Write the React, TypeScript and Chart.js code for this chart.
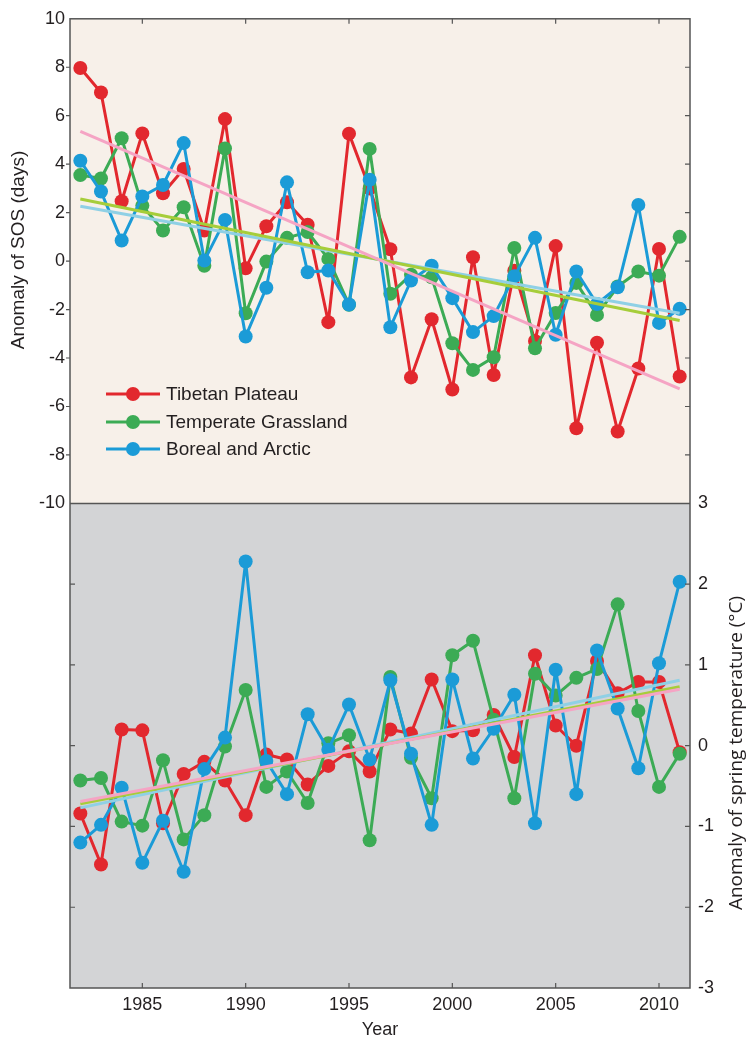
import React, { useEffect, useRef } from "react";
import { Chart, registerables } from "chart.js";

Chart.register(...registerables);

const years = [1982, 1983, 1984, 1985, 1986, 1987, 1988, 1989, 1990, 1991, 1992, 1993, 1994, 1995, 1996, 1997, 1998, 1999, 2000, 2001, 2002, 2003, 2004, 2005, 2006, 2007, 2008, 2009, 2010, 2011];

// Anomaly of SOS (days)
const tibetanSOS = [7.97, 6.96, 2.47, 5.27, 2.8, 3.8, 1.26, 5.86, -0.3, 1.44, 2.43, 1.5, -2.52, 5.26, 3.0, 0.49, -4.8, -2.4, -5.3, 0.16, -4.7, -0.4, -3.3, 0.62, -6.9, -3.37, -7.03, -4.43, 0.5, -4.76];
const grassSOS = [3.55, 3.41, 5.07, 2.29, 1.26, 2.22, -0.19, 4.65, -2.15, -0.02, 0.96, 1.2, 0.09, -1.8, 4.63, -1.35, -0.56, -0.67, -3.39, -4.49, -3.97, 0.54, -3.6, -2.14, -0.9, -2.22, -1.05, -0.43, -0.6, 1.0];
const borealSOS = [4.14, 2.87, 0.85, 2.67, 3.14, 4.87, 0.02, 1.7, -3.11, -1.1, 3.25, -0.46, -0.39, -1.79, 3.36, -2.73, -0.8, -0.19, -1.53, -2.93, -2.27, -0.63, 0.96, -3.04, -0.43, -1.77, -1.08, 2.32, -2.55, -1.97];

// Anomaly of spring temperature (°C)
const tibetanTemp = [-0.84, -1.47, 0.2, 0.19, -0.96, -0.35, -0.2, -0.43, -0.86, -0.11, -0.17, -0.48, -0.25, -0.07, -0.32, 0.2, 0.15, 0.82, 0.18, 0.19, 0.38, -0.14, 1.12, 0.25, 0.0, 1.05, 0.65, 0.79, 0.79, -0.08];
const grassTemp = [-0.43, -0.4, -0.94, -0.99, -0.18, -1.16, -0.86, -0.01, 0.69, -0.51, -0.32, -0.71, 0.03, 0.13, -1.17, 0.85, -0.15, -0.65, 1.12, 1.3, 0.32, -0.65, 0.89, 0.62, 0.84, 0.95, 1.75, 0.43, -0.51, -0.1];
const borealTemp = [-1.2, -0.98, -0.52, -1.45, -0.93, -1.56, -0.29, 0.1, 2.28, -0.19, -0.6, 0.39, -0.05, 0.51, -0.17, 0.81, -0.1, -0.98, 0.82, -0.16, 0.21, 0.63, -0.96, 0.94, -0.6, 1.18, 0.46, -0.28, 1.02, 2.03];

// Linear trend lines (end points)
const trendYears = [1982, 2011];
const tibetanSOSTrend = [5.35, -5.27];
const grassSOSTrend = [2.56, -2.45];
const borealSOSTrend = [2.26, -2.15];
const tibetanTempTrend = [-0.69, 0.7];
const grassTempTrend = [-0.72, 0.73];
const borealTempTrend = [-0.77, 0.81];

const xTicks = [1985, 1990, 1995, 2000, 2005, 2010];
const sosTicks = [-10, -8, -6, -4, -2, 0, 2, 4, 6, 8, 10];
const tempTicks = [-3, -2, -1, 0, 1, 2, 3];

const seriesNames = ["Tibetan Plateau", "Temperate Grassland", "Boreal and Arctic"];

const RED = "#e2282e";
const GREEN = "#3cab55";
const BLUE = "#1b9bd7";
const PINK = "#f5a4c4";
const YGREEN = "#a6cd3a";
const LBLUE = "#8fd0e5";
const TOP_BG = "#f7f0e9";
const BOT_BG = "#d3d4d6";
const AXIS = "#555555";
const TEXT = "#231f20";
const FONT = "'Liberation Sans', Arial, sans-serif";
const FONT2 = "'Open Sans', 'Liberation Sans', sans-serif";

function pts(xs: number[], ys: number[]) {
  return xs.map((x, i) => ({ x, y: ys[i] }));
}

export default function App() {
  const ref = useRef<HTMLCanvasElement | null>(null);

  useEffect(() => {
    document.body.style.margin = "0";
    const canvas = ref.current;
    if (!canvas) return;

    const series = (label: string, data: number[], color: string, axis: string, order: number) => ({
      label,
      data: pts(years, data),
      yAxisID: axis,
      borderColor: color,
      backgroundColor: color,
      borderWidth: 3,
      borderJoinStyle: "round",
      pointRadius: 7,
      pointBorderWidth: 0,
      pointBackgroundColor: color,
      tension: 0,
      order,
    });
    const trend = (label: string, data: number[], color: string, axis: string, order: number) => ({
      label,
      data: pts(trendYears, data),
      yAxisID: axis,
      borderColor: color,
      backgroundColor: color,
      borderWidth: 3,
      pointRadius: 0,
      tension: 0,
      order,
    });

    const panelPlugin = {
      id: "panels",
      beforeDatasetsDraw(chart: any) {
        const { ctx, chartArea } = chart;
        const mid = chart.scales.ySOS.getPixelForValue(-10);
        ctx.save();
        ctx.fillStyle = TOP_BG;
        ctx.fillRect(chartArea.left, chartArea.top, chartArea.right - chartArea.left, mid - chartArea.top);
        ctx.fillStyle = BOT_BG;
        ctx.fillRect(chartArea.left, mid, chartArea.right - chartArea.left, chartArea.bottom - mid);
        ctx.restore();
      },
      afterDraw(chart: any) {
        const { ctx, chartArea } = chart;
        const xs = chart.scales.x;
        const ys = chart.scales.ySOS;
        const yt = chart.scales.yTemp;
        const mid = ys.getPixelForValue(-10);
        const L = chartArea.left, R = chartArea.right, T = chartArea.top, B = chartArea.bottom;
        ctx.save();
        ctx.strokeStyle = AXIS;
        ctx.lineWidth = 1.5;
        ctx.strokeRect(L, T, R - L, B - T);
        ctx.beginPath();
        ctx.moveTo(L, mid);
        ctx.lineTo(R, mid);
        ctx.stroke();
        ctx.lineWidth = 1.2;
        ctx.beginPath();
        xTicks.forEach((v) => {
          const px = xs.getPixelForValue(v);
          ctx.moveTo(px, T);
          ctx.lineTo(px, T + 5);
          ctx.moveTo(px, B);
          ctx.lineTo(px, B - 5);
        });
        sosTicks.forEach((v) => {
          const py = ys.getPixelForValue(v);
          if (v !== 10 && v !== -10) {
            ctx.moveTo(L - 4, py);
            ctx.lineTo(L, py);
            ctx.moveTo(R, py);
            ctx.lineTo(R - 5, py);
          }
        });
        tempTicks.forEach((v) => {
          const py = yt.getPixelForValue(v);
          if (v !== 3 && v !== -3) {
            ctx.moveTo(R, py);
            ctx.lineTo(R - 5, py);
            ctx.moveTo(L, py);
            ctx.lineTo(L + 5, py);
          }
        });
        ctx.stroke();

        // axis titles
        ctx.fillStyle = TEXT;
        ctx.textAlign = "center";
        ctx.textBaseline = "middle";
        ctx.font = "19px " + FONT;
        ctx.save();
        ctx.translate(19, 250);
        ctx.rotate(-Math.PI / 2);
        ctx.fillText("Anomaly of SOS (days)", 0, 0);
        ctx.restore();
        ctx.font = "19px " + FONT2;
        ctx.save();
        ctx.translate(737, 753);
        ctx.rotate(-Math.PI / 2);
        ctx.fillText("Anomaly of spring temperature (°C)", 0, 0);
        ctx.restore();
        ctx.font = "18px " + FONT;
        ctx.fillText("Year", (L + R) / 2, 1030);

        // legend
        const colors = [RED, GREEN, BLUE];
        const rows = [394, 422, 449];
        ctx.textAlign = "left";
        ctx.font = "19px " + FONT;
        seriesNames.forEach((name, i) => {
          const y = rows[i];
          ctx.strokeStyle = colors[i];
          ctx.lineWidth = 3;
          ctx.beginPath();
          ctx.moveTo(106, y);
          ctx.lineTo(160, y);
          ctx.stroke();
          ctx.fillStyle = colors[i];
          ctx.beginPath();
          ctx.arc(133, y, 7, 0, Math.PI * 2);
          ctx.fill();
          ctx.fillStyle = TEXT;
          ctx.fillText(name, 166, y + 1);
        });
        ctx.restore();
      },
    };

    const chart = new Chart(canvas, {
      type: "line",
      data: {
        datasets: [
          trend("TP trend SOS", tibetanSOSTrend, PINK, "ySOS", 1),
          trend("TG trend SOS", grassSOSTrend, YGREEN, "ySOS", 2),
          trend("BA trend SOS", borealSOSTrend, LBLUE, "ySOS", 3),
          trend("TP trend T", tibetanTempTrend, PINK, "yTemp", 1),
          trend("TG trend T", grassTempTrend, YGREEN, "yTemp", 2),
          trend("BA trend T", borealTempTrend, LBLUE, "yTemp", 3),
          series(seriesNames[2], borealSOS, BLUE, "ySOS", 4),
          series(seriesNames[1], grassSOS, GREEN, "ySOS", 5),
          series(seriesNames[0], tibetanSOS, RED, "ySOS", 6),
          series(seriesNames[2] + " T", borealTemp, BLUE, "yTemp", 4),
          series(seriesNames[1] + " T", grassTemp, GREEN, "yTemp", 5),
          series(seriesNames[0] + " T", tibetanTemp, RED, "yTemp", 6),
        ] as any,
      },
      options: {
        responsive: false,
        animation: false,
        devicePixelRatio: 1,
        layout: { padding: { top: 18, left: 0, right: 0, bottom: 0 } },
        plugins: { legend: { display: false }, tooltip: { enabled: false } },
        scales: {
          x: {
            type: "linear",
            min: 1981.5,
            max: 2011.5,
            afterBuildTicks: (s: any) => {
              s.ticks = xTicks.map((v) => ({ value: v }));
            },
            afterFit: (s: any) => {
              s.height = 51;
            },
            grid: { display: false, drawTicks: false },
            border: { display: false },
            ticks: { font: { family: FONT, size: 18 }, color: TEXT, padding: 6, callback: (v: any) => String(v) },
          },
          ySOS: {
            type: "linear",
            position: "left",
            min: -30,
            max: 10,
            afterBuildTicks: (s: any) => {
              s.ticks = sosTicks.map((v) => ({ value: v }));
            },
            afterFit: (s: any) => {
              s.width = 70;
            },
            grid: { display: false, drawTicks: false },
            border: { display: false },
            ticks: { font: { family: FONT, size: 18 }, color: TEXT, padding: 5 },
          },
          yTemp: {
            type: "linear",
            position: "right",
            min: -3,
            max: 9,
            afterBuildTicks: (s: any) => {
              s.ticks = tempTicks.map((v) => ({ value: v }));
            },
            afterFit: (s: any) => {
              s.width = 57;
            },
            grid: { display: false, drawTicks: false },
            border: { display: false },
            ticks: { font: { family: FONT, size: 18 }, color: TEXT, padding: 8 },
          },
        },
      } as any,
      plugins: [panelPlugin],
    });

    return () => chart.destroy();
  }, []);

  return <canvas ref={ref} width={747} height={1039} style={{ display: "block", width: 747, height: 1039 }} />;
}
